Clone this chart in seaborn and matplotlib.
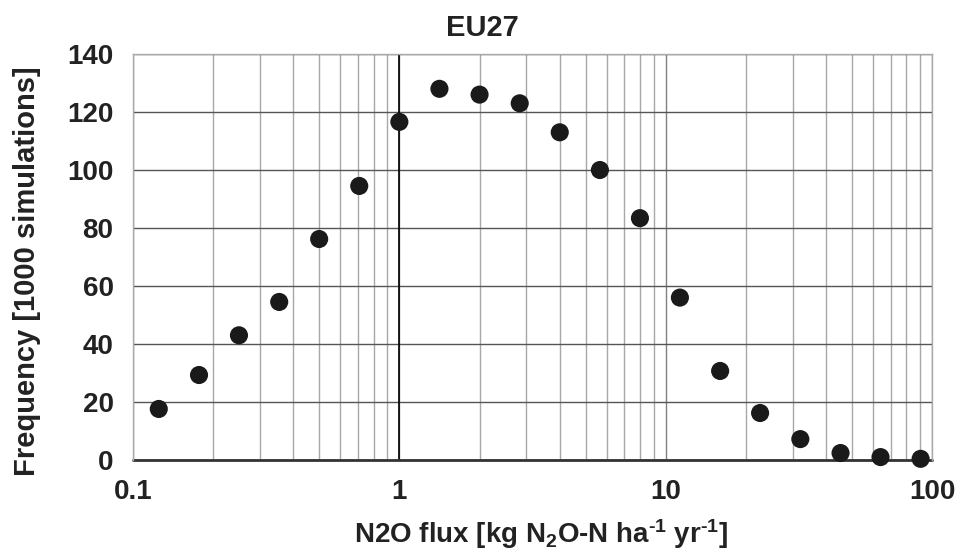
import numpy as np
import pandas as pd
import matplotlib
matplotlib.use("Agg")
import matplotlib.pyplot as plt
import seaborn as sns
from matplotlib.ticker import LogLocator, FixedLocator, NullFormatter

flux = [0.125, 0.177, 0.25, 0.354, 0.5, 0.707, 1.0, 1.414, 2.0, 2.83, 4.0, 5.66,
        8.0, 11.3, 16.0, 22.6, 32.0, 45.3, 64.0, 90.5]
freq = [17.6, 29.3, 43.0, 54.5, 76.2, 94.5, 116.6, 128.0, 126.0, 123.0, 113.0, 100.0,
        83.4, 56.0, 30.7, 16.2, 7.2, 2.4, 1.0, 0.4]
x_ticks = [0.1, 1, 10, 100]
x_tick_labels = ["0.1", "1", "10", "100"]
y_ticks = [0, 20, 40, 60, 80, 100, 120, 140]

sns.set_style("white")
plt.rcParams['font.family'] = ['Liberation Sans', 'DejaVu Sans']
plt.rcParams['font.weight'] = 'bold'
plt.rcParams['mathtext.fontset'] = 'custom'
plt.rcParams['mathtext.rm'] = 'Liberation Sans:bold'
plt.rcParams['mathtext.it'] = 'Liberation Sans:bold'
plt.rcParams['mathtext.bf'] = 'Liberation Sans:bold'
plt.rcParams['mathtext.default'] = 'rm'

df = pd.DataFrame({"flux": flux, "freq": freq})

fig = plt.figure(figsize=(9.6, 5.54), dpi=100)
ax = fig.add_axes([0.1385, 0.1697, 0.8325, 0.7328])
ax.set_xscale("log")
ax.set_xlim(0.1, 100)
ax.set_ylim(0, 140)

# grid
ax.xaxis.set_major_locator(FixedLocator(x_ticks))
ax.xaxis.set_minor_locator(LogLocator(base=10, subs=np.arange(2, 10)))
ax.xaxis.set_minor_formatter(NullFormatter())
ax.set_xticklabels(x_tick_labels)
ax.set_yticks(y_ticks)
ax.grid(True, which="minor", axis="x", color="#a8a8a8", lw=1.0)
ax.grid(True, which="major", axis="x", color="#808080", lw=1.0)
ax.grid(True, which="major", axis="y", color="#555555", lw=1.0)
ax.set_axisbelow(True)
ax.axvline(1, color="black", lw=1.2, zorder=1)
ax.axhline(0, color="#333333", lw=2, zorder=1, clip_on=False)

sns.scatterplot(data=df, x="flux", y="freq", ax=ax, color="#1a1a1a", s=170,
                edgecolor="none", zorder=3, clip_on=False, legend=False)

for side in ["top", "right", "left"]:
    ax.spines[side].set_color("#aaaaaa")
    ax.spines[side].set_linewidth(1.0)
ax.spines["bottom"].set_visible(False)

ax.tick_params(axis="x", which="major", length=7, width=1, color="#888888",
               direction="out", labelsize=20, pad=7)
ax.tick_params(axis="x", which="minor", length=0)
ax.tick_params(axis="y", length=0, labelsize=20, pad=14)
for lab in ax.get_xticklabels() + ax.get_yticklabels():
    lab.set_fontweight("bold")
    lab.set_color("#222222")

ax.set_xlabel(r"N2O flux [kg N$_2$O-N ha$^{\text{-}1}$ yr$^{\text{-}1}$]", fontsize=20,
              fontweight="bold", color="#222222")
ax.xaxis.set_label_coords(0.511, -0.142)
ax.set_ylabel("Frequency [1000 simulations]", fontsize=21, fontweight="bold",
              color="#222222")
ax.yaxis.set_label_coords(-0.115, 0.465)
fig.text(0.502, 0.95, "EU27", ha="center", va="center", fontsize=21,
         fontweight="bold", color="#222222")

fig.savefig("out.png", dpi=100, facecolor="white")
